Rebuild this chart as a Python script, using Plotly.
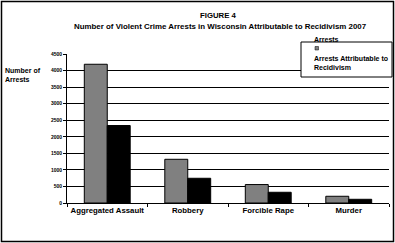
import plotly.graph_objects as go

categories = ["Aggregated Assault", "Robbery", "Forcible Rape", "Murder"]
series_names = ["Arrests", "Arrests Attributable to<br>Recidivism"]
arrests = [4190, 1320, 557, 203]
recidivism = [2340, 747, 324, 112]
series_colors = ["#808080", "#000000"]
y_ticks = [0, 500, 1000, 1500, 2000, 2500, 3000, 3500, 4000, 4500]

W, H = 395, 243
L, R, T, B = 67, 6, 54, 40
pw, ph = W - L - R, H - T - B

def px(x):
    return (x - L) / pw

def py(y):
    return (H - B - y) / ph

FONT = "Liberation Sans, Arial, sans-serif"

fig = go.Figure()
for name, vals, col in zip(series_names, [arrests, recidivism], series_colors):
    fig.add_trace(go.Bar(x=categories, y=vals, name=name, marker=dict(color=col, line=dict(color="black", width=1))))

fig.update_layout(
    width=W, height=H,
    margin=dict(l=L, r=R, t=T, b=B, autoexpand=False),
    paper_bgcolor="white", plot_bgcolor="white",
    barmode="group", bargap=0.43, bargroupgap=0,
    showlegend=False,
    font=dict(family=FONT, color="black"),
)
fig.update_yaxes(
    range=[0, 4500], tickvals=y_ticks, ticktext=[str(v) for v in y_ticks],
    showgrid=True, gridcolor="black", gridwidth=1,
    showline=True, linecolor="black", linewidth=1,
    ticks="outside", ticklen=3, tickcolor="black",
    tickfont=dict(size=5, family=FONT, weight="bold"), zeroline=False,
)
fig.update_xaxes(
    showline=True, linecolor="black", linewidth=1,
    ticks="outside", ticklen=3, tickcolor="black", tickson="boundaries",
    tickangle=0, automargin=False,
    tickfont=dict(size=7.8, family=FONT, weight="bold"),
)

# Titles
fig.add_annotation(text="FIGURE 4", x=px(218), y=py(15), xref="paper", yref="paper",
                   showarrow=False, font=dict(size=7.8, family=FONT, weight="bold"),
                   xanchor="center", yanchor="middle")
fig.add_annotation(text="Number of Violent Crime Arrests in Wisconsin Attributable to Recidivism 2007",
                   x=px(220), y=py(26), xref="paper", yref="paper",
                   showarrow=False, font=dict(size=7.9, family=FONT, weight="bold"),
                   xanchor="center", yanchor="middle")
fig.add_annotation(text="Number of<br>Arrests", x=px(3), y=py(75), xref="paper", yref="paper",
                   showarrow=False, font=dict(size=7, family=FONT, weight="bold"),
                   xanchor="left", yanchor="middle", align="left")

# Outer frame
fig.add_shape(type="rect", xref="paper", yref="paper",
              x0=px(1.5), x1=px(393.5), y0=py(241.5), y1=py(1.5),
              line=dict(color="black", width=1.5), fillcolor="rgba(0,0,0,0)", layer="above")

# Legend box
fig.add_shape(type="rect", xref="paper", yref="paper",
              x0=px(301), x1=px(392), y0=py(77), y1=py(42),
              line=dict(color="black", width=1), fillcolor="white", layer="above")
fig.add_annotation(text=series_names[0], x=px(312), y=py(40), xref="paper", yref="paper",
                   showarrow=False, font=dict(size=7, family=FONT, weight="bold"),
                   xanchor="left", yanchor="middle")
fig.add_shape(type="rect", xref="paper", yref="paper",
              x0=px(315), x1=px(318.5), y0=py(50), y1=py(46.5),
              line=dict(color="black", width=0.5), fillcolor=series_colors[0], layer="above")
fig.add_annotation(text=series_names[1], x=px(312), y=py(62.5), xref="paper", yref="paper",
                   showarrow=False, font=dict(size=7, family=FONT, weight="bold"),
                   xanchor="left", yanchor="middle", align="left")

fig.write_html("out.html")
